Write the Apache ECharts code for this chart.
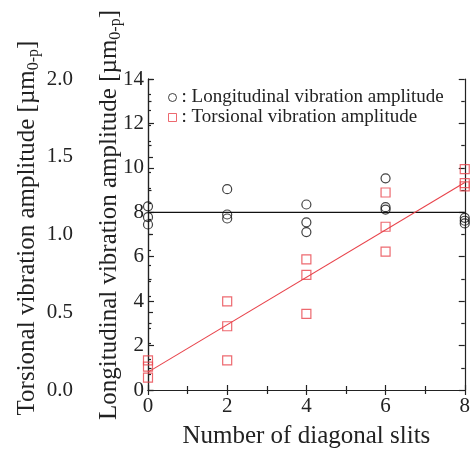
<!DOCTYPE html>
<html>
<head>
<meta charset="utf-8">
<script src="https://cdn.jsdelivr.net/npm/echarts@6/dist/echarts.min.js"></script>
<style>
html,body{margin:0;padding:0;background:#fff;}
#main{width:473px;height:454px;}
</style>
</head>
<body>
<div id="main"></div>
<script>
// Number of diagonal slits (x) for each measured point
const slitsX = [0, 0, 0, 2, 2, 2, 4, 4, 4, 6, 6, 6, 8, 8, 8];
// Longitudinal vibration amplitude [µm0-p]
const longitudinal = [8.27, 7.78, 7.45, 9.04, 7.9, 7.72, 8.35, 7.55, 7.11, 9.53, 8.23, 8.12, 7.75, 7.62, 7.5];
// Torsional vibration amplitude [µm0-p]
const torsional = [0.19, 0.15, 0.08, 0.57, 0.41, 0.19, 0.84, 0.74, 0.49, 1.27, 1.05, 0.89, 1.42, 1.33, 1.31];
// Fitted lines (endpoints at x = 0 and x = 8)
const fitX = [0, 8];
const longitudinalFit = [8.0, 8.0];
const torsionalFit = [0.115, 1.335];
// Axis ticks
const xTicks = [0, 2, 4, 6, 8];
const longTicks = [0, 2, 4, 6, 8, 10, 12, 14];
const torsTicks = [0.0, 0.5, 1.0, 1.5, 2.0];

const FONT = 'Liberation Serif';
const INK = '#222';
const RED = '#e8434b';

const pairs = (xs, ys) => xs.map((x, i) => [x, ys[i]]);

const chart = echarts.init(document.getElementById('main'), null, {renderer: 'canvas'});

const baseAxisLine = {show: true, lineStyle: {color: INK, width: 1.2}};

const option = {
  backgroundColor: '#fff',
  animation: false,
  textStyle: {fontFamily: FONT},
  grid: {left: 148, right: 6, top: 79, bottom: 59, containLabel: false},
  legend: {
    orient: 'vertical',
    left: 168, top: 88,
    itemWidth: 8, itemHeight: 8, itemGap: 1,
    padding: 0,
    itemStyle: {borderWidth: 1},
    textStyle: {fontFamily: FONT, fontSize: 19, color: INK, lineHeight: 19},
    formatter: name => ': ' + name,
    data: ['Longitudinal vibration amplitude', 'Torsional vibration amplitude']
  },
  xAxis: [{
    type: 'value', min: xTicks[0], max: xTicks[xTicks.length - 1], interval: 2,
    position: 'bottom',
    axisLine: baseAxisLine,
    axisTick: {inside: true, length: 5, lineStyle: {color: INK, width: 1.2}},
    minorTick: {show: true, splitNumber: 2, length: 4, lineStyle: {color: INK, width: 1.2}},
    splitLine: {show: false},
    axisLabel: {fontFamily: FONT, fontSize: 21, color: INK, margin: 6},
    name: 'Number of diagonal slits', nameLocation: 'middle', nameGap: 34,
    nameTextStyle: {fontFamily: FONT, fontSize: 25, color: INK}
  }, {
    type: 'value', min: xTicks[0], max: xTicks[xTicks.length - 1], interval: 2,
    position: 'top',
    axisLine: baseAxisLine,
    axisTick: {inside: true, length: 5, lineStyle: {color: INK, width: 1.2}},
    minorTick: {show: true, splitNumber: 2, length: 4, lineStyle: {color: INK, width: 1.2}},
    splitLine: {show: false},
    axisLabel: {show: false}
  }],
  yAxis: [{
    type: 'value', min: longTicks[0], max: longTicks[longTicks.length - 1], interval: 2,
    position: 'left',
    axisLine: baseAxisLine,
    axisTick: {inside: true, length: 6, lineStyle: {color: INK, width: 1.2}},
    minorTick: {show: true, splitNumber: 2, length: 3.5, lineStyle: {color: INK, width: 1.2}},
    splitLine: {show: false},
    axisLabel: {fontFamily: FONT, fontSize: 21, color: INK, margin: 4}
  }, {
    type: 'value', min: torsTicks[0], max: torsTicks[torsTicks.length - 1], interval: 0.5,
    position: 'left', offset: 70,
    axisLine: baseAxisLine,
    axisTick: {inside: true, length: 5, lineStyle: {color: INK, width: 1.2}},
    minorTick: {show: true, splitNumber: 5, length: 3, lineStyle: {color: INK, width: 1.2}},
    splitLine: {show: false},
    axisLabel: {fontFamily: FONT, fontSize: 21, color: INK, margin: 5, formatter: v => v.toFixed(1)}
  }, {
    type: 'value', min: longTicks[0], max: longTicks[longTicks.length - 1], interval: 2,
    position: 'right',
    axisLine: baseAxisLine,
    axisTick: {inside: true, length: 6, lineStyle: {color: INK, width: 1.2}},
    minorTick: {show: true, splitNumber: 2, length: 3.5, lineStyle: {color: INK, width: 1.2}},
    splitLine: {show: false},
    axisLabel: {show: false}
  }],
  series: [{
    name: 'Longitudinal fit', type: 'line', xAxisIndex: 0, yAxisIndex: 0,
    data: pairs(fitX, longitudinalFit), showSymbol: false, silent: true,
    lineStyle: {color: '#111', width: 1.2}, z: 2
  }, {
    name: 'Torsional fit', type: 'line', xAxisIndex: 0, yAxisIndex: 1,
    data: pairs(fitX, torsionalFit), showSymbol: false, silent: true,
    lineStyle: {color: RED, width: 1.1}, z: 2
  }, {
    name: 'Longitudinal vibration amplitude', type: 'scatter', xAxisIndex: 0, yAxisIndex: 0,
    data: pairs(slitsX, longitudinal), symbol: 'circle', symbolSize: 9,
    itemStyle: {color: 'rgba(255,255,255,0)', borderColor: '#111', borderWidth: 1.2}, z: 3
  }, {
    name: 'Torsional vibration amplitude', type: 'scatter', xAxisIndex: 0, yAxisIndex: 1,
    data: pairs(slitsX, torsional), symbol: 'rect', symbolSize: 9,
    itemStyle: {color: 'rgba(255,255,255,0)', borderColor: RED, borderWidth: 1.2}, z: 3
  }],
  graphic: [{
    type: 'text', x: 27, y: 228, rotation: Math.PI / 2,
    style: {
      text: '{a|Torsional vibration amplitude [µm}{s|0-p}{a|]}',
      align: 'center', verticalAlign: 'middle', fill: INK,
      rich: {
        a: {fontFamily: FONT, fontSize: 25, lineHeight: 30, verticalAlign: 'middle', fill: INK},
        s: {fontFamily: FONT, fontSize: 16, lineHeight: 16, verticalAlign: 'bottom', fill: INK}
      }
    }
  }, {
    type: 'text', x: 109, y: 215, rotation: Math.PI / 2,
    style: {
      text: '{a|Longitudinal vibration amplitude [µm}{s|0-p}{a|]}',
      align: 'center', verticalAlign: 'middle', fill: INK,
      rich: {
        a: {fontFamily: FONT, fontSize: 25, lineHeight: 30, verticalAlign: 'middle', fill: INK},
        s: {fontFamily: FONT, fontSize: 16, lineHeight: 16, verticalAlign: 'bottom', fill: INK}
      }
    }
  }]
};
chart.setOption(option);
</script>
</body>
</html>
